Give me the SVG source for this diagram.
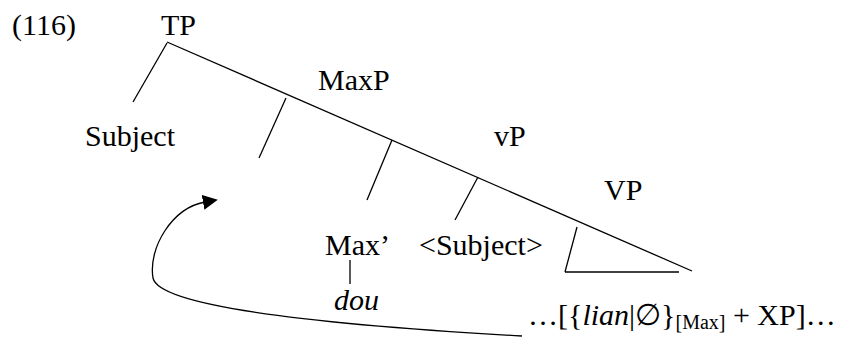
<svg xmlns="http://www.w3.org/2000/svg" width="843" height="338" viewBox="0 0 843 338">
<style>
text{font-family:"Liberation Serif","Times New Roman",serif;font-size:30px;fill:#000}
.it{font-style:italic}
.sub{font-size:20px}
line,path{stroke:#000;stroke-width:1.3;fill:none}
</style>
<defs>
<marker id="ah" markerUnits="userSpaceOnUse" markerWidth="16" markerHeight="16" refX="2" refY="7.5" orient="auto">
<path d="M0,0 L15,7.5 L0,15 z" style="fill:#000;stroke:none"/>
</marker>
</defs>
<g id="label-116"><text x="12" y="35">(116)</text></g>
<g id="TP"><text x="161" y="35">TP</text></g>
<g id="MaxP"><text x="318" y="90">MaxP</text></g>
<g id="Subject"><text x="85" y="146">Subject</text></g>
<g id="vP"><text x="494" y="146">vP</text></g>
<g id="VP"><text x="604" y="200">VP</text></g>
<g id="Max-bar"><text x="325" y="255">Max’</text></g>
<g id="Subject-trace"><text x="419" y="255">&lt;Subject&gt;</text></g>
<g id="dou"><text class="it" x="334" y="310">dou</text></g>
<g id="lian-XP"><text x="528" y="325">…[{<tspan class="it">lian</tspan>|∅}<tspan class="sub" dy="4">[Max]</tspan><tspan dy="-4"> + XP]…</tspan></text></g>
<g id="connectors">
<line x1="167" y1="42" x2="692" y2="271"/>
<line x1="167" y1="43" x2="133" y2="102"/>
<line x1="286" y1="98" x2="259" y2="158"/>
<line x1="392" y1="140" x2="367" y2="200"/>
<line x1="478" y1="177" x2="455" y2="220"/>
<line x1="577" y1="227" x2="565" y2="272"/>
<line x1="565" y1="272" x2="679" y2="272"/>
<line x1="350" y1="260" x2="350" y2="284"/>
<path d="M522 336 C380 328 160 312 153 278 C148 248 172 208 205 202" marker-end="url(#ah)"/>
</g>
</svg>
